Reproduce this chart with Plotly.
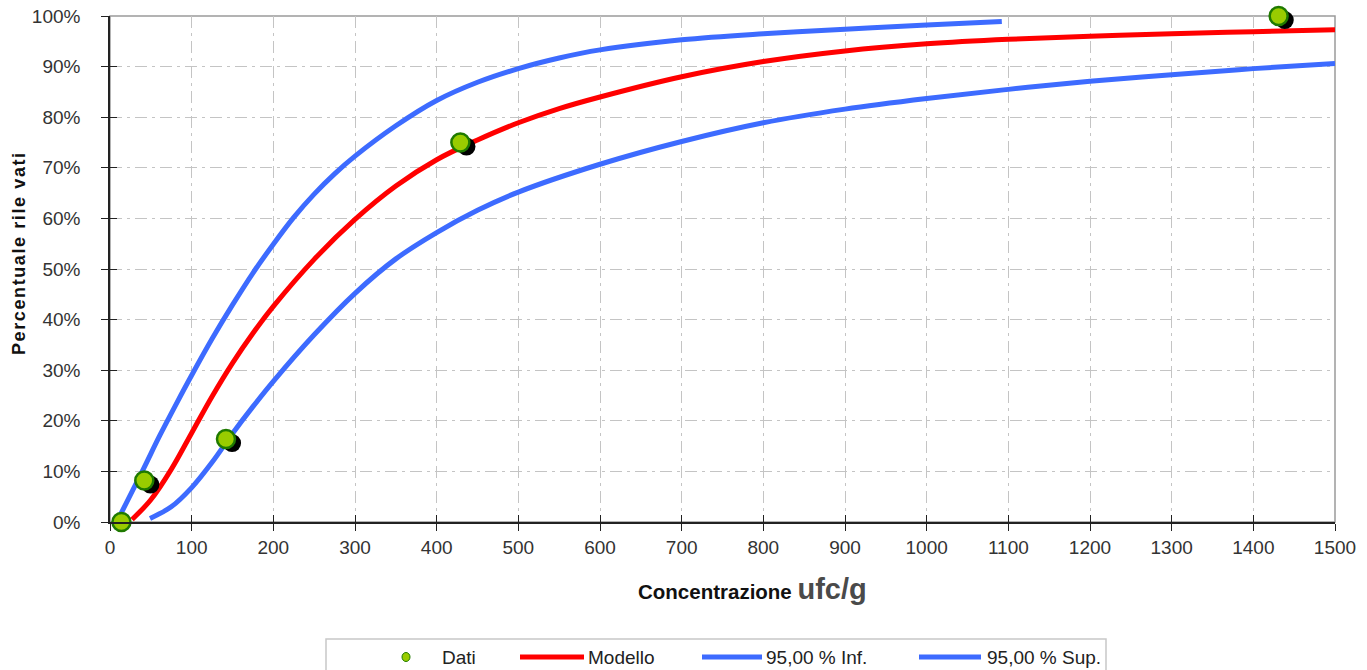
import plotly.graph_objects as go

# Observed data (Dati)
dati_x = [14, 42, 142, 429, 1431]
dati_y = [0, 8.2, 16.4, 75, 100]

# Fitted model (Modello)
mod_x = [27, 50, 75, 100, 125, 150, 175, 200, 250, 300, 350, 400, 450, 500, 550, 600, 700, 800, 900, 1000, 1100, 1200, 1300, 1400, 1500]
mod_y = [0.5, 4.4, 10.4, 17.6, 24.8, 31.4, 37.3, 42.6, 51.9, 59.8, 66.4, 71.6, 75.5, 78.9, 81.7, 84.0, 88.0, 91.0, 93.1, 94.5, 95.4, 96.0, 96.5, 96.9, 97.3]

# Upper confidence curve (95,00 % Inf.)
inf_x = [12, 41, 61, 82, 100, 125, 150, 175, 200, 225, 250, 275, 300, 350, 400, 450, 500, 550, 600, 700, 800, 900, 1000, 1092]
inf_y = [1.2, 10.5, 17.1, 23.6, 29.0, 36.2, 42.9, 49.2, 54.9, 60.2, 64.8, 68.8, 72.3, 78.3, 83.3, 86.9, 89.6, 91.7, 93.3, 95.3, 96.5, 97.4, 98.2, 98.9]

# Lower confidence curve (95,00 % Sup.)
sup_x = [49, 75, 100, 125, 150, 175, 200, 250, 300, 350, 400, 450, 500, 600, 700, 800, 900, 1000, 1100, 1200, 1300, 1400, 1500]
sup_y = [0.7, 3.0, 6.8, 11.8, 17.5, 22.8, 27.8, 37.0, 45.2, 52.0, 57.2, 61.6, 65.2, 70.7, 75.2, 78.9, 81.6, 83.7, 85.5, 87.1, 88.4, 89.6, 90.6]

x_ticks = list(range(0, 1501, 100))
y_ticks = list(range(0, 101, 10))
y_ticktext = [f"{v}%" for v in y_ticks]

legend_names = ["Dati", "Modello", "95,00 % Inf.", "95,00 % Sup."]

# shadow offset in data units
SHX, SHY = 7.5, -0.8

GREEN = "#99CC00"
GREEN_EDGE = "#1F7A00"
RED = "#FF0000"
BLUE = "#3D6BFF"
FONT = "Liberation Sans, Arial, sans-serif"

# plot area geometry in page pixels (used for the hand-drawn legend/titles)
PX0, PX1, PY0, PY1 = 110, 1335, 16, 522
def xp(px):
    return (px - PX0) / (PX1 - PX0)
def yp(py):
    return (PY1 - py) / (PY1 - PY0)

fig = go.Figure()

fig.add_trace(go.Scatter(x=mod_x, y=mod_y, mode="lines", name=legend_names[1],
                         line=dict(color=RED, width=5, shape="spline", smoothing=1.0)))
fig.add_trace(go.Scatter(x=inf_x, y=inf_y, mode="lines", name=legend_names[2],
                         line=dict(color=BLUE, width=5, shape="spline", smoothing=1.0)))
fig.add_trace(go.Scatter(x=sup_x, y=sup_y, mode="lines", name=legend_names[3],
                         line=dict(color=BLUE, width=5, shape="spline", smoothing=1.0)))
fig.add_trace(go.Scatter(x=[v + SHX for v in dati_x], y=[v + SHY for v in dati_y], mode="markers",
                         hoverinfo="skip", cliponaxis=False,
                         marker=dict(size=18, color="black", line=dict(width=0))))
fig.add_trace(go.Scatter(x=dati_x, y=dati_y, mode="markers", name=legend_names[0], cliponaxis=False,
                         marker=dict(size=18, color=GREEN, line=dict(color=GREEN_EDGE, width=2.5))))

GRIDDASH = "12px,5px,3px,5px"
common = dict(ticks="outside", ticklen=7, tickcolor="#222", tickwidth=1.2,
              showline=True, linecolor="#222", linewidth=1.5, zeroline=False,
              tickfont=dict(family=FONT, size=19, color="#333"),
              showgrid=True, gridcolor="#C4C4C4", gridwidth=1, griddash=GRIDDASH,
              automargin=False, ticklabeloverflow="allow")
fig.update_xaxes(range=[0, 1500], tickvals=x_ticks, ticklabelstandoff=0, **common)
fig.update_yaxes(range=[0, 100], tickvals=y_ticks, ticktext=y_ticktext, ticklabelstandoff=17, **common)

# inner halves of the crossing ticks
fig.update_layout(
    xaxis2=dict(overlaying="x", range=[0, 1500], tickvals=x_ticks, ticks="inside", ticklen=7,
                tickcolor="#222", tickwidth=1.2, showticklabels=False, showgrid=False, showline=False,
                zeroline=False, side="bottom", anchor="y"),
    yaxis2=dict(overlaying="y", range=[0, 100], tickvals=y_ticks, ticks="inside", ticklen=7,
                tickcolor="#222", tickwidth=1.2, showticklabels=False, showgrid=False, showline=False,
                zeroline=False, side="left", anchor="x"),
)
fig.add_trace(go.Scatter(x=[None], y=[None], xaxis="x2", yaxis="y2", showlegend=False, hoverinfo="skip"))

shapes = []
# plot border (top/right gray)
shapes.append(dict(type="rect", xref="paper", yref="paper", x0=0, y0=0, x1=1, y1=1,
                   line=dict(color="#9A9A9A", width=1.5), layer="below"))
# legend box
shapes.append(dict(type="rect", xref="paper", yref="paper", x0=xp(326), x1=xp(1106), y0=yp(680), y1=yp(639),
                   line=dict(color="#C8C8C8", width=1.5), fillcolor="white", layer="above"))
LY = 657
# legend marker for Dati
shapes.append(dict(type="circle", xref="paper", yref="paper", x0=xp(402), x1=xp(410), y0=yp(LY + 4.5), y1=yp(LY - 4.5),
                   line=dict(color=GREEN_EDGE, width=1), fillcolor=GREEN))
for (x0, x1, col) in [(520, 584, RED), (702, 762, BLUE), (919, 981, BLUE)]:
    shapes.append(dict(type="line", xref="paper", yref="paper", x0=xp(x0), x1=xp(x1), y0=yp(LY), y1=yp(LY),
                       line=dict(color=col, width=5)))

annotations = []
for name, tx in zip(legend_names, [440, 586, 764, 985]):
    annotations.append(dict(text=name, xref="paper", yref="paper", x=xp(tx), y=yp(LY), xanchor="left",
                            yanchor="middle", showarrow=False, font=dict(family=FONT, size=19, color="#222")))
# axis titles
annotations.append(dict(text="<b>Concentrazione </b><b><span style=\"font-size:29px;color:#4a4a4a\">ufc/g</span></b>",
                        xref="paper", yref="paper", x=xp(752), y=yp(589), xanchor="center", yanchor="middle",
                        showarrow=False, font=dict(family=FONT, size=20.5, color="#111")))
annotations.append(dict(text="<b><span style=\"letter-spacing:1.6px\">Percentuale rile vati</span></b>",
                        xref="paper", yref="paper", x=xp(19), y=yp(253),
                        xanchor="center", yanchor="middle", textangle=-90, showarrow=False,
                        font=dict(family=FONT, size=18, color="#111")))

fig.update_layout(
    width=1367, height=670,
    margin=dict(l=110, r=32, t=16, b=148),
    plot_bgcolor="white", paper_bgcolor="white",
    font=dict(family=FONT, color="#222"),
    showlegend=False,
    shapes=shapes, annotations=annotations,
)

fig.write_html("out.html", config={"displayModeBar": False},
               post_script="document.body.style.margin='0px';document.body.style.overflow='hidden';")
